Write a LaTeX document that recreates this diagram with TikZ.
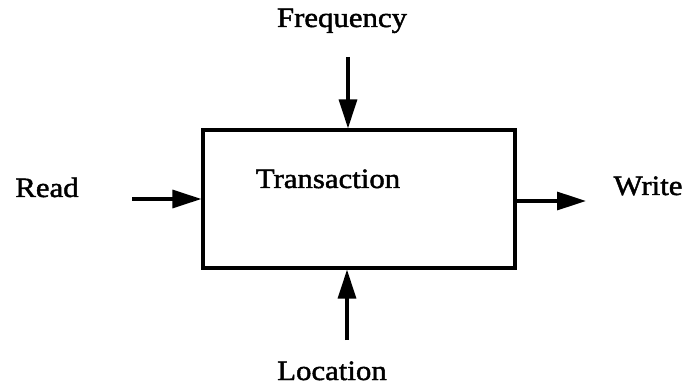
\documentclass[tikz,border=0pt]{standalone}
\usepackage{fontspec}
\setmainfont{Liberation Serif}[FakeStretch=1.1,FakeBold=1.6]
\usetikzlibrary{arrows.meta}
\begin{document}
\begin{tikzpicture}[x=1pt,y=-1pt,
  lbl/.style={anchor=base,inner sep=0pt,font=\fontsize{28}{32}\selectfont},
  arr/.style={line width=3.2pt,-{Triangle[length=29pt,width=18pt]}},
  procbox/.style={draw,line width=3.2pt,minimum width=312pt,minimum height=138pt,inner sep=0pt}]
  \useasboundingbox (0,0) rectangle (685,387);
  % the process box
  \node[procbox] (box) at (359,199) {};
  \node[lbl] (title) at (328,188) {Transaction};
  % labels of the four flows
  \node[lbl] (freq) at (342,27) {Frequency};
  \node[lbl] (read) at (47,197) {Read};
  \node[lbl] (write) at (648,195) {Write};
  \node[lbl] (loc) at (332,380) {Location};
  % free ends of the connectors
  \coordinate (ftail) at (348,57);
  \coordinate (ltail) at (347,340);
  \coordinate (rtail) at (132,199);
  \coordinate (whead) at (586,201);
  % connectors
  \draw[arr] (ftail) -- (ftail |- box.north);
  \draw[arr] (ltail) -- (ltail |- box.south);
  \draw[arr] (rtail) -- (box.west);
  \draw[arr] (box.east |- whead) -- (whead);
\end{tikzpicture}
\end{document}
